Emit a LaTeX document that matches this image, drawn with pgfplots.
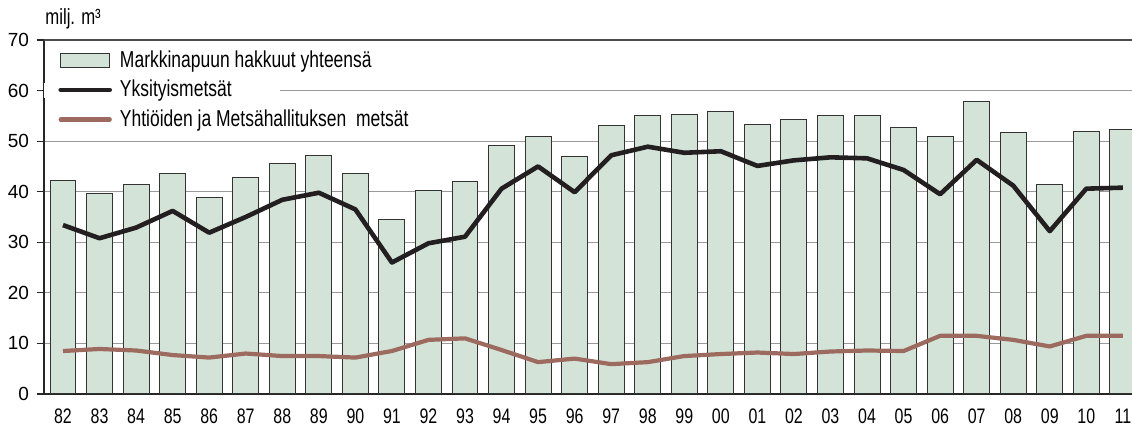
\documentclass[border=0pt]{standalone}
\usepackage{fontspec}
\setmainfont{Liberation Sans}
\newfontfamily\condfont{Liberation Sans}[FakeStretch=0.76]
\usepackage{pgfplots}
\pgfplotsset{compat=1.18}
\definecolor{barfill}{HTML}{D3E3D7}
\definecolor{brownline}{HTML}{9C6A5E}
\definecolor{blackline}{HTML}{231F20}
\definecolor{gridgray}{HTML}{9A9A9A}
\begin{document}
\begin{tikzpicture}
\begin{axis}[
  scale only axis,
  width=544pt, height=177pt,
  xmin=-0.52, xmax=29.25,
  ymin=0, ymax=70,
  axis x line*=bottom,
  axis y line*=left,
  axis line style={black!85, line width=0.7pt},
  xtick={0,...,29},
  xticklabels={82,83,84,85,86,87,88,89,90,91,92,93,94,95,96,97,98,99,00,01,02,03,04,05,06,07,08,09,10,11},
  ytick={0,10,...,60},
  extra y ticks={70},
  extra y tick style={grid style={black!70, line width=0.8pt}},
  ymajorgrids,
  grid style={gridgray, line width=0.5pt},
  tick align=outside,
  x tick style={draw=none},
  y tick style={black!85, line width=0.6pt},
  major tick length=3.5pt,
  /pgf/number format/assume math mode=true,
  yticklabel style={font=\fontsize{9.5}{10}\selectfont, xshift=-0.5pt},
  xticklabel style={font=\condfont\fontsize{10.5}{12}\selectfont, yshift=-0.5pt},
  legend cell align=left,
  legend style={at={(axis description cs:0,1)}, anchor=north west,
    xshift=5pt, yshift=-1pt, draw=none, fill=none,
    font=\condfont\fontsize{11.5}{13}\selectfont,
    row sep=1.0pt, inner sep=2pt,
    nodes={inner xsep=4pt}},
]
\fill[white] (axis cs:-0.52,58.5) rectangle (axis cs:5.94,61.5);
\addplot[ybar, bar width=0.71, fill=barfill, draw=black!80, line width=0.5pt,
  legend image code/.code={\draw[fill=barfill, draw=black!80, line width=0.5pt] (0pt,-3.5pt) rectangle (24.5pt,3.5pt);}]
coordinates {
(0,42.3) (1,39.7) (2,41.4) (3,43.6) (4,38.9) (5,42.9) (6,45.65) (7,47.1) (8,43.6) (9,34.5)
(10,40.2) (11,42.0) (12,49.2) (13,51.0) (14,47.0) (15,53.0) (16,55.1) (17,55.3) (18,55.9) (19,53.2)
(20,54.2) (21,55.0) (22,55.0) (23,52.6) (24,50.9) (25,57.8) (26,51.7) (27,41.4) (28,52.0) (29,52.4)
};
\addlegendentry{Markkinapuun hakkuut yhteensä}
\addplot[blackline, line width=2.3pt, line join=round,
  legend image code/.code={\draw[blackline, line width=2.3pt, line cap=round] (0pt,0pt) -- (24.5pt,0pt);}]
coordinates {
(0,33.4) (1,30.8) (2,32.9) (3,36.2) (4,31.9) (5,35.0) (6,38.4) (7,39.8) (8,36.5) (9,26.0)
(10,29.8) (11,31.1) (12,40.6) (13,45.0) (14,39.9) (15,47.2) (16,48.9) (17,47.7) (18,48.0) (19,45.1)
(20,46.2) (21,46.8) (22,46.6) (23,44.3) (24,39.5) (25,46.3) (26,41.2) (27,32.2) (28,40.6) (29,40.8)
};
\addlegendentry{Yksityismetsät}
\addplot[brownline, line width=2.1pt, line join=round,
  legend image code/.code={\draw[brownline, line width=2.1pt, line cap=round] (0pt,0pt) -- (24.5pt,0pt);}]
coordinates {
(0,8.5) (1,8.9) (2,8.6) (3,7.7) (4,7.2) (5,8.0) (6,7.5) (7,7.5) (8,7.2) (9,8.5)
(10,10.7) (11,11.0) (12,8.7) (13,6.3) (14,7.0) (15,5.9) (16,6.3) (17,7.5) (18,7.9) (19,8.2)
(20,7.9) (21,8.4) (22,8.6) (23,8.5) (24,11.5) (25,11.5) (26,10.7) (27,9.4) (28,11.5) (29,11.5)
};
\addlegendentry{Yhtiöiden ja Metsähallituksen\ \ metsät}
\coordinate (SW) at (rel axis cs:0,0);
\coordinate (NE) at (rel axis cs:1,1);
\end{axis}
\node[anchor=base west, font=\condfont\fontsize{11}{12}\selectfont, inner sep=0pt] at ([xshift=0.5pt, yshift=7.5pt]NE -| SW) {milj. m³};
\pgfresetboundingbox
\path ([xshift=-22pt, yshift=-16.5pt]SW) rectangle ([yshift=20pt]NE);
\end{tikzpicture}
\end{document}
